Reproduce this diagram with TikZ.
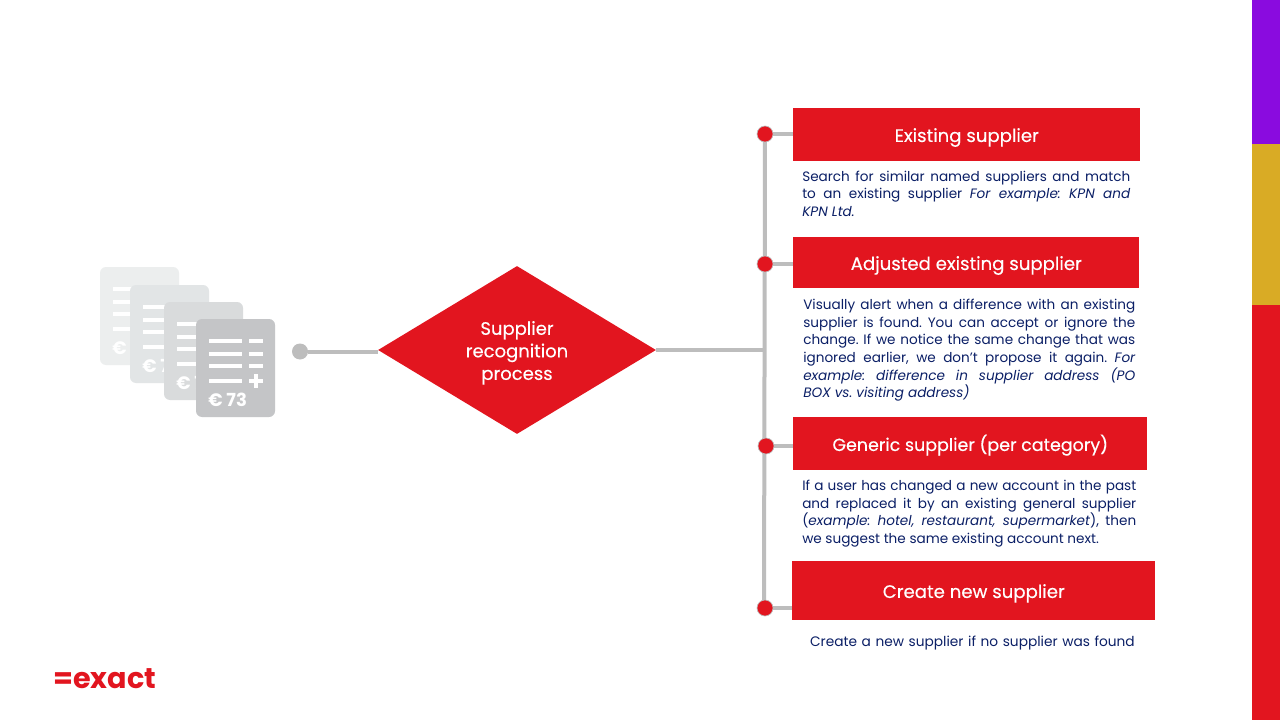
\documentclass[tikz,border=0pt]{standalone}
\usepackage{fontspec}
\setmainfont{Poppins}
\usetikzlibrary{shapes.geometric,positioning,calc}
\definecolor{exactred}{HTML}{E2151F}
\definecolor{linegray}{HTML}{BDBDBD}
\definecolor{bodyblue}{HTML}{0B1F66}
\definecolor{barpurple}{HTML}{8A0BDF}
\definecolor{bargold}{HTML}{D9AB25}

\begin{document}
\frenchspacing
\begin{tikzpicture}[
    x=0.75pt, y=-0.75pt,
    conn/.style={draw=linegray, line width=3pt},
    headbox/.style={fill=exactred, text=white, anchor=north west, inner sep=0pt, align=center, text height=10.8pt, text depth=0pt, font=\fontsize{13.6}{16}\selectfont\addfontfeature{FakeBold=0.3}},
    bodytext/.style={anchor=north west, inner sep=0pt, text=bodyblue, align=justify, font=\fontsize{10.2}{13.2}\selectfont},
    dot/.style={circle, fill=exactred, draw=linegray, line width=0.5pt, minimum size=12pt, inner sep=0pt},
    bar/.style={fill=#1, draw=none}
]
    \useasboundingbox (0,0) rectangle (1280,720);
    \fill[white] (0,0) rectangle (1280,720);

    % Colour bars on the right
    \path[bar=barpurple] (1252,0) rectangle (1280,144);
    \path[bar=bargold] (1252,144) rectangle (1280,305);
    \path[bar=exactred] (1252,305) rectangle (1280,720);

    % Stack of invoices
    \foreach \dx/\dy/\doccol in {100/267/ECEEEE, 130/285/E2E5E6, 164/302/D9DBDC, 196/319/C4C5C7} {
        \definecolor{doccol}{HTML}{\doccol}
        \begin{scope}[shift={(\dx,\dy)}]
            \fill[doccol, rounded corners=4.5pt] (0,0) rectangle (79,98);
            \foreach \ly in {22,35,47,62}
                \draw[white, line width=2.4pt] (13,\ly) -- (46,\ly);
            \foreach \ly in {22,35,47}
                \draw[white, line width=2.4pt] (53,\ly) -- (67,\ly);
            \draw[white, line width=2.8pt] (53,62) -- (67,62) (60,55) -- (60,69);
            \node[anchor=west, inner sep=0pt, text=white, font=\fontsize{13.5}{16}\bfseries\selectfont] at (12,81) {€ 73};
        \end{scope}
    }

    % Decision
    \node[dot, fill=linegray, draw=none] (start) at (300,351.5) {};
    \node[diamond, aspect=1.65, fill=exactred, text=white, inner sep=0pt, minimum width=208.5pt, minimum height=126pt, align=center, font=\fontsize{13.5}{16.9}\selectfont\addfontfeature{FakeBold=0.3}] (process) at (517,350) {\rule{0pt}{14.5pt}Supplier\\recognition\\process};
    \draw[conn] (start) -- (start -| process.west);

    % Outcome boxes
    \node[headbox, minimum width=260.25pt, minimum height=39.75pt] (existing) at (793,108) {Existing supplier};
    \node[headbox, minimum width=259.5pt, minimum height=38.25pt] (adjusted) at (793,237) {Adjusted existing supplier};
    \node[headbox, minimum width=265.5pt, minimum height=39.75pt, font=\fontsize{13.1}{16}\selectfont\addfontfeature{FakeBold=0.3}] (generic) at (793,417) {Generic supplier (per category)};
    \node[headbox, minimum width=272.25pt, minimum height=44.25pt] (create) at (792,561) {Create new supplier};

    % Spine with dots
    \coordinate (spinetop) at (765,134);
    \coordinate (spinebot) at (764,608);
    \draw[conn] (spinetop) -- (spinebot);
    \draw[conn] (process.east) -- (process.east -| spinebot);
    \node[dot] (dotexisting) at (765,134) {};
    \node[dot] (dotadjusted) at (765,264) {};
    \node[dot] (dotgeneric) at (766,446) {};
    \node[dot] (dotcreate) at (765,608) {};
    \draw[conn] (dotexisting) -- (dotexisting -| existing.west);
    \draw[conn] (dotadjusted) -- (dotadjusted -| adjusted.west);
    \draw[conn] (dotgeneric) -- (dotgeneric -| generic.west);
    \draw[conn] (dotcreate) -- (dotcreate -| create.west);

    % Descriptions
    \node[bodytext, text width=246pt] (existingtext) at (802,170.5) {Search for similar named suppliers and match\linebreak to an existing supplier \textit{For example: KPN and\linebreak KPN Ltd.}};
    \node[bodytext, text width=249pt] (adjustedtext) at (803,299) {Visually alert when a difference with an existing\linebreak supplier is found. You can accept or ignore the\linebreak change. If we notice the same change that was\linebreak ignored earlier, we don’t propose it again. \textit{For\linebreak example: difference in supplier address (PO\linebreak BOX vs. visiting address)}};
    \node[bodytext, text width=250.5pt] (generictext) at (802,480) {If a user has changed a new account in the past\linebreak and replaced it by an existing general supplier\linebreak (\textit{example: hotel, restaurant, supermarket}), then\linebreak we suggest the same existing account next.};
    \node[bodytext, text width=243.75pt, align=right, font=\fontsize{10.3}{13.2}\selectfont] (createtext) at (809.5,636) {Create a new supplier if no supplier was found};

    % Logo
    \node[anchor=west, inner sep=0pt, text=exactred, font=\fontsize{21.5}{24}\bfseries\selectfont] (logo) at (53,679) {=exact};
\end{tikzpicture}
\end{document}
